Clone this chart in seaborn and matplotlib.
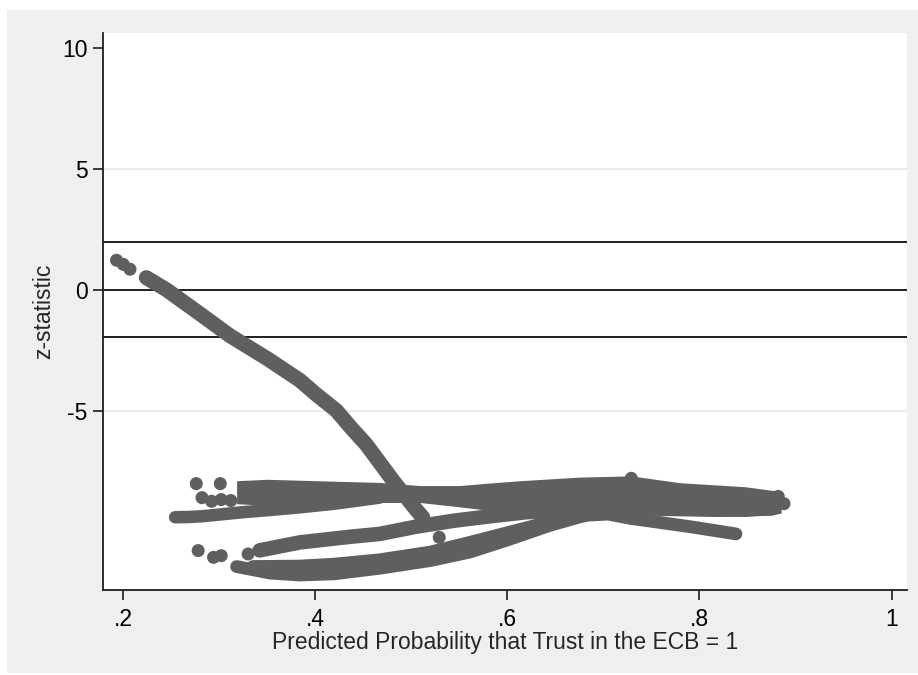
import matplotlib
matplotlib.use('Agg')
import matplotlib.pyplot as plt
from matplotlib.patches import Rectangle
import seaborn as sns

# --- values ---
# steep descending curve
arm_x = [0.224, 0.245, 0.28, 0.311, 0.35, 0.384, 0.40, 0.422, 0.437, 0.453, 0.467, 0.481, 0.498, 0.505, 0.512]
arm_z = [0.5, 0.0, -1.0, -1.9, -2.85, -3.75, -4.3, -5.0, -5.7, -6.4, -7.15, -7.9, -8.75, -9.1, -9.42]

# thin bottom row of the upper cluster
row_x = [0.254, 0.268, 0.282, 0.30, 0.325, 0.35, 0.384, 0.42, 0.467]
row_z = [-9.41, -9.40, -9.37, -9.30, -9.20, -9.12, -9.00, -8.85, -8.60]

# middle curve rising into the main band
mid_x = [0.342, 0.384, 0.436, 0.467, 0.505, 0.545, 0.58, 0.62, 0.68, 0.75, 0.82, 0.875]
mid_z = [-10.78, -10.45, -10.22, -10.1, -9.8, -9.55, -9.38, -9.2, -9.1, -9.05, -9.1, -9.05]

# lowest curves (two rows), peaking near .7
low1_x = [0.335, 0.384, 0.42, 0.467, 0.52, 0.561, 0.60, 0.644, 0.685, 0.705, 0.727, 0.79, 0.838]
low1_z = [-11.45, -11.43, -11.35, -11.17, -10.85, -10.45, -10.05, -9.6, -9.32, -9.28, -9.45, -9.8, -10.1]
low2_x = [0.318, 0.353, 0.384, 0.42, 0.467, 0.52, 0.561, 0.60, 0.644, 0.675]
low2_z = [-11.45, -11.72, -11.8, -11.75, -11.52, -11.2, -10.85, -10.35, -9.75, -9.4]

# wide band of overlapping curves around z = -8.5
band_x = [0.318, 0.35, 0.384, 0.42, 0.467, 0.509, 0.55, 0.58, 0.613, 0.675, 0.729, 0.779, 0.848, 0.885]
band_top = [-7.9, -7.84, -7.88, -7.92, -7.97, -8.1, -8.1, -8.0, -7.9, -7.75, -7.7, -7.98, -8.15, -8.35]
band_bot = [-8.85, -8.92, -8.9, -8.85, -8.8, -8.8, -8.98, -9.12, -9.13, -9.1, -9.2, -9.32, -9.38, -9.25]

# loose single points
dot_x = [0.193, 0.200, 0.207, 0.529, 0.276, 0.301, 0.282, 0.292, 0.302, 0.312,
         0.278, 0.294, 0.302, 0.330, 0.729, 0.882, 0.888, 0.878]
dot_z = [1.22, 1.05, 0.85, -10.24, -8.02, -8.02, -8.6, -8.75, -8.68, -8.72,
         -10.79, -11.07, -11.0, -10.93, -7.8, -8.55, -8.85, -9.05]

ref_lines = [1.96, 0, -1.96]
grid_lines = [5, -5]
x_ticks = [0.2, 0.4, 0.6, 0.8, 1]
x_labels = ['.2', '.4', '.6', '.8', '1']
y_ticks = [-5, 0, 5, 10]
y_labels = ['-5', '0', '5', '10']

sns.set_style('white')
plt.rcParams['font.family'] = ['Liberation Sans', 'DejaVu Sans']

mark = '#5f5f5f'
fig = plt.figure(figsize=(9.18, 6.75), dpi=100, facecolor='white')
fig.patches.append(Rectangle((7 / 918, 2 / 675), 1, 663 / 675, transform=fig.transFigure,
                             facecolor='#efefef', edgecolor='none', zorder=-10))
ax = fig.add_axes([103 / 918, 85 / 675, 804 / 918, 557 / 675])
ax.set_facecolor('white')

for g in grid_lines:
    ax.axhline(g, color='#e6e6e6', lw=1.2, zorder=1)
for r in ref_lines:
    ax.axhline(r, color='#1e1e1e', lw=1.4, zorder=2)

ax.fill_between(band_x, band_top, band_bot, color=mark, lw=0, zorder=3)
for xs, zs, w in [(arm_x, arm_z, 10.8), (row_x, row_z, 9.0), (mid_x, mid_z, 10.5),
                  (low1_x, low1_z, 9.2), (low2_x, low2_z, 9.2)]:
    sns.lineplot(x=xs, y=zs, ax=ax, sort=False, estimator=None, color=mark,
                 lw=w, solid_capstyle='round', solid_joinstyle='round', zorder=3)
sns.scatterplot(x=dot_x, y=dot_z, ax=ax, s=88, color=mark, edgecolor='none', zorder=4)

ax.set_xlim(0.1789, 1.0161)
ax.set_ylim(-12.42, 10.62)
ax.set_xticks(x_ticks)
ax.set_xticklabels(x_labels)
ax.set_yticks(y_ticks)
ax.set_yticklabels(y_labels)
ax.tick_params(axis='both', bottom=True, left=True, direction='out', length=7,
               width=1.2, color='#1e1e1e', labelsize=16.5, labelcolor='black')
ax.tick_params(axis='x', pad=6)
ax.tick_params(axis='y', pad=4)
for side in ['top', 'right']:
    ax.spines[side].set_visible(False)
for side in ['left', 'bottom']:
    ax.spines[side].set_color('#1e1e1e')
    ax.spines[side].set_linewidth(1.3)

ax.set_xlabel('Predicted Probability that Trust in the ECB = 1', fontsize=16.5, labelpad=0)
ax.set_ylabel('z-statistic', fontsize=16.5, labelpad=5)

fig.savefig('out.png', dpi=100, facecolor='white')
